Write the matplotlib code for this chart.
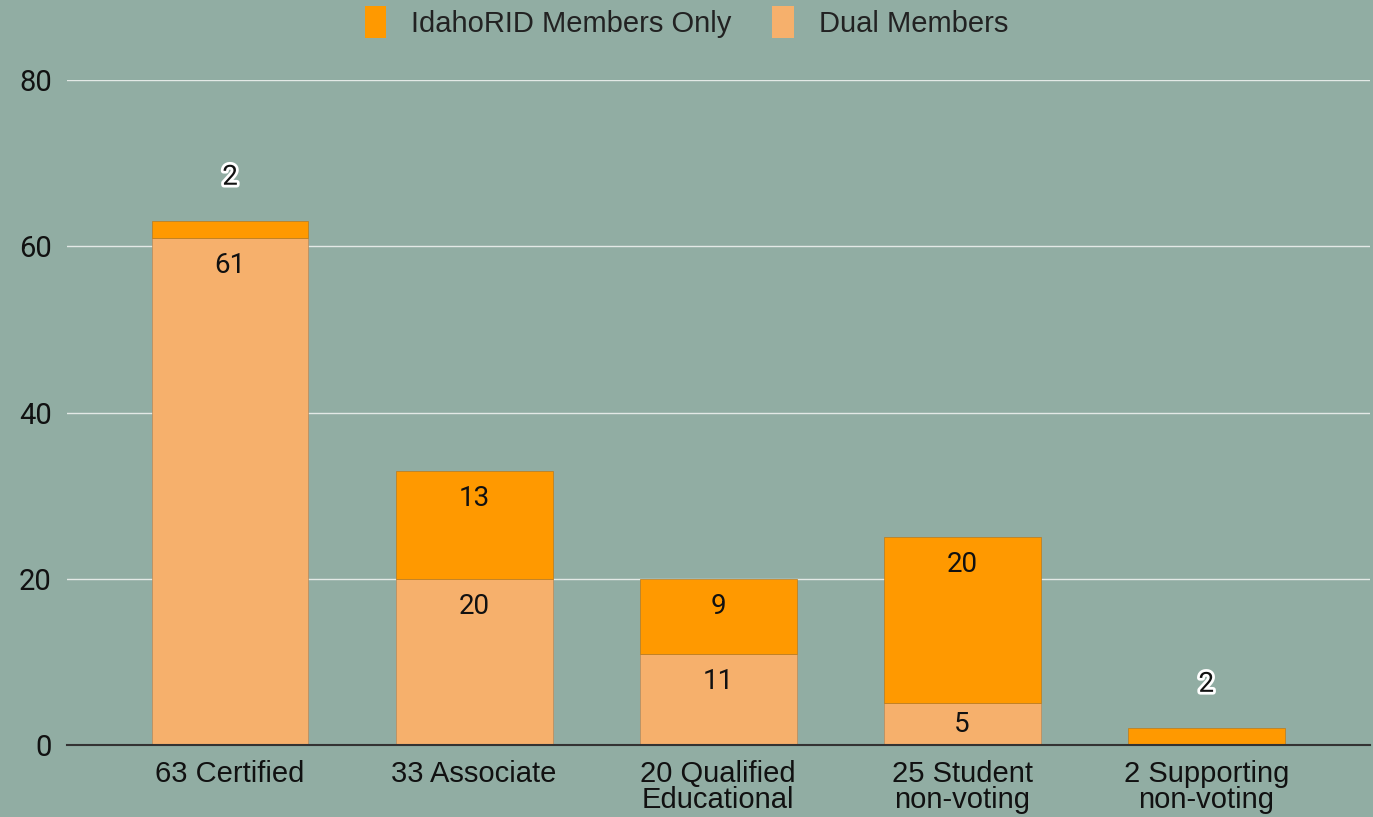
import matplotlib.pyplot as plt
import matplotlib.patheffects as pe
from matplotlib.patches import Patch

categories = ['63 Certified', '33 Associate', '20 Qualified\nEducational',
              '25 Student\nnon-voting', '2 Supporting\nnon-voting']
dual_members = [61, 20, 11, 5, 0]
idaho_only = [2, 13, 9, 20, 2]

bg = '#91ada3'
dual_color = '#f6b06c'
only_color = '#ff9900'

fig = plt.figure(figsize=(13.73, 8.17), dpi=100, facecolor=bg)
ax = fig.add_axes([0.0488, 0.0881, 0.9492, 0.814])
ax.set_facecolor(bg)

x = list(range(len(categories)))
w = 0.643
ax.bar(x, dual_members, width=w, color=dual_color, edgecolor='#b88a5a', linewidth=0.5, zorder=2)
ax.bar(x, idaho_only, width=w, bottom=dual_members, color=only_color, edgecolor='#b87a20', linewidth=0.5, zorder=2)

# labels near top of each segment, small segments get label above the bar
for i in x:
    d = dual_members[i]
    o = idaho_only[i]
    if d > 0:
        ax.text(i, max(d - 3.3, d / 2), str(d), ha='center', va='center', fontsize=20, family='Roboto',
                color='#111111', zorder=3)
    if o >= 5:
        ax.text(i, d + o - 3.3, str(o), ha='center', va='center', fontsize=20, family='Roboto',
                color='#111111', zorder=3)
    elif o > 0:
        ax.text(i, d + o + 5.3, str(o), ha='center', va='center', fontsize=20, family='Roboto', color='#111111',
                zorder=3, path_effects=[pe.withStroke(linewidth=4, foreground='white')])

ax.set_xlim(-0.668, 4.672)
ax.set_ylim(0, 80)
ax.set_yticks([0, 20, 40, 60, 80])
ax.set_xticks(x)
ax.set_xticklabels(categories, family='Liberation Sans', fontsize=21, linespacing=0.9)
for lbl in ax.get_yticklabels():
    lbl.set_family('Roboto')
    lbl.set_fontsize(21)
ax.tick_params(axis='both', length=0, colors='#111111')
ax.tick_params(axis='y', pad=11)
ax.tick_params(axis='x', pad=11)
ax.grid(axis='y', color='#e3e9e6', linewidth=1, zorder=0)
ax.set_axisbelow(True)
for s in ['top', 'right', 'left']:
    ax.spines[s].set_visible(False)
ax.spines['bottom'].set_color('#333333')
ax.spines['bottom'].set_linewidth(1.5)
ax.spines['bottom'].set_zorder(4)

handles = [Patch(facecolor=only_color, edgecolor='none'), Patch(facecolor=dual_color, edgecolor='none')]
fig.legend(handles, ['IdahoRID Members Only', 'Dual Members'], loc='center', bbox_to_anchor=(0.5, 0.973),
           ncol=2, frameon=False, prop={'family': 'Liberation Sans', 'size': 21}, handlelength=0.75,
           handleheight=1.3, columnspacing=1.4, handletextpad=0.85, labelcolor='#222222')

fig.savefig('out.png', dpi=100, facecolor=bg)
